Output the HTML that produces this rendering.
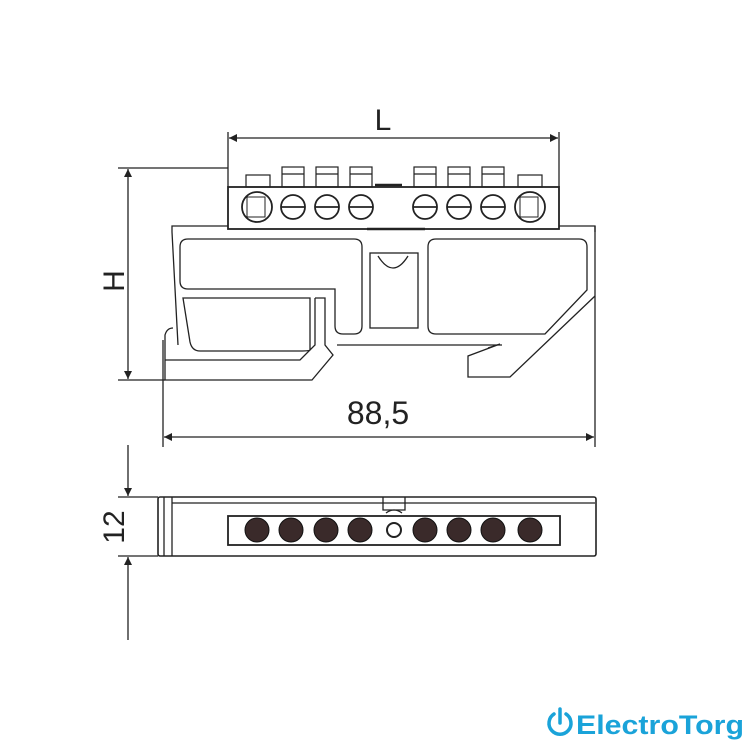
<!DOCTYPE html>
<html><head><style>body{margin:0;background:#fff}svg{display:block}</style></head><body>
<svg width="750" height="750" viewBox="0 0 750 750" xmlns="http://www.w3.org/2000/svg">
<defs><marker id="a" viewBox="0 0 10 10" refX="10" refY="5" markerWidth="14" markerHeight="8" orient="auto-start-reverse" markerUnits="userSpaceOnUse"><path d="M0,0 L10,5 L0,10 z" fill="#222"/></marker></defs>
<g stroke="#222" stroke-width="1.3" fill="none">
<!-- L dim -->
<line x1="228" y1="132" x2="228" y2="187"/><line x1="559" y1="132" x2="559" y2="187"/>
<line x1="229" y1="138" x2="558" y2="138" marker-start="url(#a)" marker-end="url(#a)"/>
<!-- H dim -->
<line x1="118" y1="168" x2="228" y2="168"/><line x1="118" y1="380" x2="165" y2="380"/>
<line x1="128" y1="169" x2="128" y2="379" marker-start="url(#a)" marker-end="url(#a)"/>
<!-- 88,5 dim -->
<line x1="163" y1="340" x2="163" y2="447"/><line x1="595" y1="226" x2="595" y2="447"/>
<line x1="164" y1="437" x2="594" y2="437" marker-start="url(#a)" marker-end="url(#a)"/>
<!-- terminal strip -->
<rect x="228" y="187" width="331" height="42" stroke-width="1.8"/>
<g stroke-width="1.2">
<rect x="246" y="175" width="24" height="12"/>
<rect x="282" y="167" width="22" height="20"/><rect x="316" y="167" width="22" height="20"/><rect x="350" y="167" width="22" height="20"/>
<rect x="414" y="167" width="22" height="20"/><rect x="448" y="167" width="22" height="20"/><rect x="482" y="167" width="22" height="20"/>
<rect x="518" y="175" width="24" height="12"/>
<line x1="282" y1="174" x2="304" y2="174"/><line x1="316" y1="174" x2="338" y2="174"/><line x1="350" y1="174" x2="372" y2="174"/>
<line x1="414" y1="174" x2="436" y2="174"/><line x1="448" y1="174" x2="470" y2="174"/><line x1="482" y1="174" x2="504" y2="174"/>
</g>
<line x1="375" y1="185" x2="402" y2="185" stroke-width="2.5"/>
<g stroke-width="1.8">
<circle cx="257" cy="207" r="15"/><rect x="247" y="197" width="18" height="20" stroke-width="1"/>
<circle cx="530" cy="207" r="15"/><rect x="520" y="197" width="18" height="20" stroke-width="1"/>
<circle cx="293" cy="207" r="12"/><line x1="281" y1="207" x2="305" y2="207"/>
<circle cx="327" cy="207" r="12"/><line x1="315" y1="207" x2="339" y2="207"/>
<circle cx="361" cy="207" r="12"/><line x1="349" y1="207" x2="373" y2="207"/>
<circle cx="425" cy="207" r="12"/><line x1="413" y1="207" x2="437" y2="207"/>
<circle cx="459" cy="207" r="12"/><line x1="447" y1="207" x2="471" y2="207"/>
<circle cx="493" cy="207" r="12"/><line x1="481" y1="207" x2="505" y2="207"/>
</g>
<line x1="367" y1="229" x2="425" y2="229" stroke-width="2.5"/>
<!-- base -->
<path d="M228,226 L172,226 L172,232 L178,345"/>
<path d="M559,226 L595,226 L595,232"/>
<path d="M595,296 L510,377 L468,377 L468,356 L500,344 L488,348"/>
<path d="M180,247 Q180,239 188,239 L354,239 Q362,239 362,247 L362,326 Q362,334 354,334 L343,334 Q335,334 335,326 L335,289 L188,289 Q180,289 180,281 Z"/>
<path d="M183,298 L310,298 L310,350 Q310,351 300,351 L200,351 Q192,351 190,342 Z"/>
<path d="M315,298 L325,298 L325,345 L333,355 L312,380 L165,380 L165,335 Q167,328 173,328"/>
<path d="M165,360 L300,360 L315,345 L315,298"/>
<path d="M337,345 L502,345"/>
<rect x="370" y="253" width="48" height="75"/>
<path d="M378,256 Q393,280 408,256"/>
<path d="M436,239 L579,239 Q587,239 587,247 L587,290 L545,334 L436,334 Q428,334 428,326 L428,247 Q428,239 436,239 Z"/>
<!-- bottom view -->
<rect x="158" y="497" width="438" height="59" rx="2" stroke-width="1.6"/>
<line x1="172" y1="503" x2="595" y2="503"/>
<line x1="164" y1="497" x2="164" y2="556"/><line x1="172" y1="497" x2="172" y2="556"/>
<rect x="228" y="516" width="332" height="29" stroke-width="1.8"/>
<path d="M383,497 L383,510 L405,510 L405,497"/><path d="M386,513 Q394,507 402,513"/>
<circle cx="394" cy="530" r="7" stroke-width="2"/>
<line x1="118" y1="497" x2="158" y2="497"/><line x1="118" y1="556" x2="158" y2="556"/>
<line x1="128" y1="445" x2="128" y2="496" marker-end="url(#a)"/>
<line x1="128" y1="640" x2="128" y2="557" marker-end="url(#a)"/>
</g>
<g fill="#3a2a2a" stroke="#111" stroke-width="1">
<circle cx="257" cy="530" r="12"/><circle cx="291" cy="530" r="12"/><circle cx="326" cy="530" r="12"/><circle cx="360" cy="530" r="12"/>
<circle cx="425" cy="530" r="12"/><circle cx="459" cy="530" r="12"/><circle cx="493" cy="530" r="12"/><circle cx="530" cy="530" r="12"/>
</g>
<g font-family="Liberation Sans, sans-serif" fill="#222">
<text x="383" y="130" font-size="30" text-anchor="middle">L</text>
<text transform="translate(124,281) rotate(-90)" font-size="30" text-anchor="middle">H</text>
<text x="378" y="424" font-size="32" text-anchor="middle">88,5</text>
<text transform="translate(124,527) rotate(-90)" font-size="30" text-anchor="middle">12</text>
</g>
<g stroke="#1aa3d9" stroke-width="3.5" fill="none" stroke-linecap="round">
<path d="M554,714 A11,11 0 1 0 566,714"/><line x1="560" y1="709" x2="560" y2="723"/>
</g>
<text x="576" y="734" font-family="Liberation Sans, sans-serif" font-weight="bold" font-size="27" fill="#1aa3d9" textLength="168" lengthAdjust="spacingAndGlyphs">ElectroTorg</text>
</svg>
</body></html>
